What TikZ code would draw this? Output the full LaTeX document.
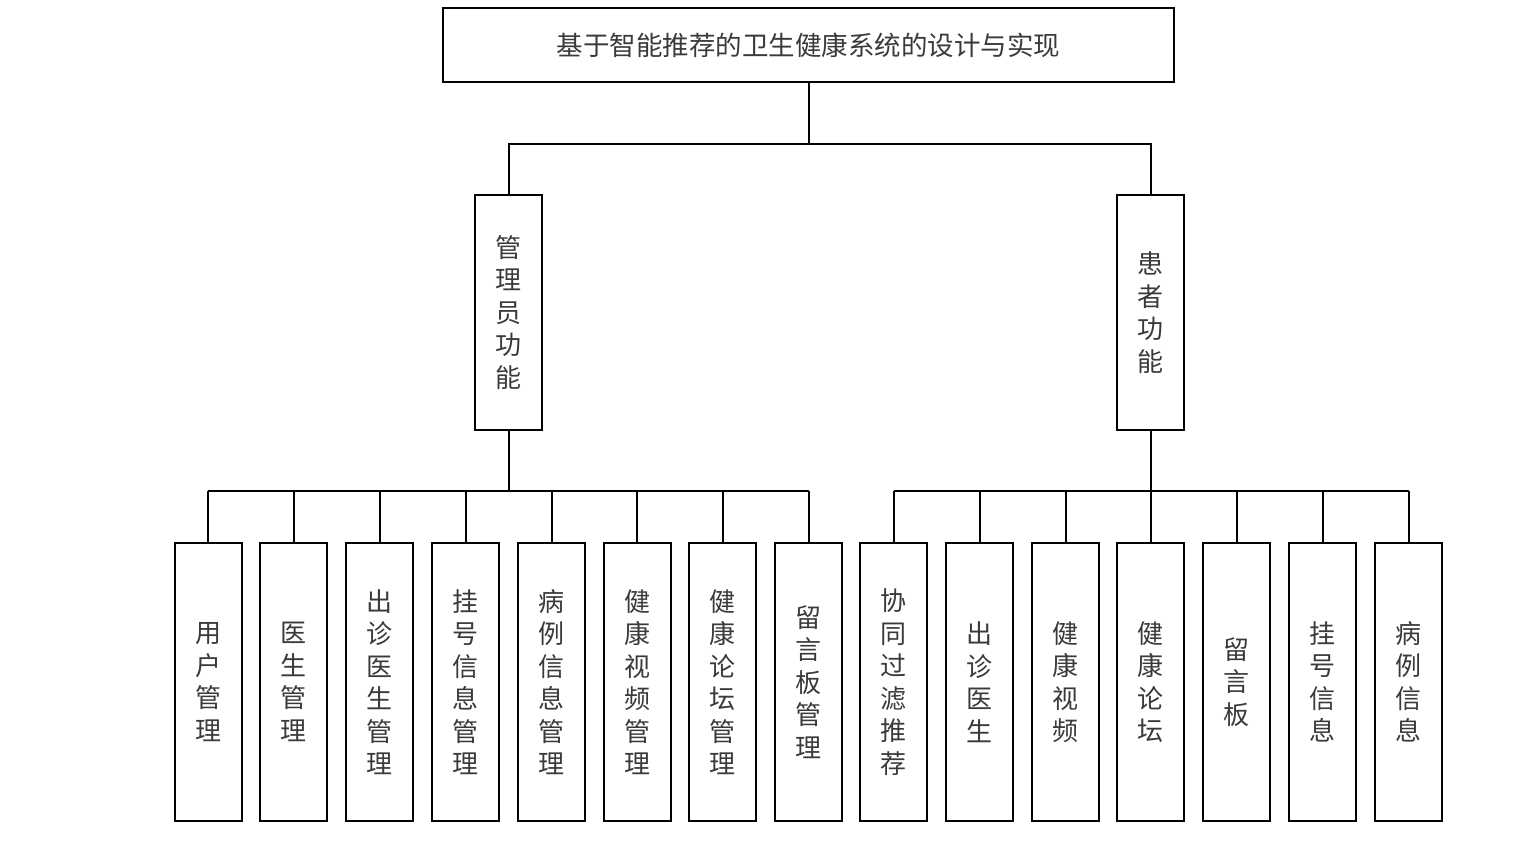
\documentclass[tikz,border=0pt]{standalone}
\usepackage{fontspec}
\newfontfamily\cjk{Noto Sans CJK SC}
\definecolor{txt}{HTML}{3A3A3A}
\begin{document}
\begin{tikzpicture}[x=1pt,y=-1pt,
  box/.style={draw=black,line width=2pt,rectangle,inner sep=0pt,align=center,
    font=\cjk\fontsize{26}{32.5}\selectfont,text=txt},
  titlebox/.style={box,minimum width=731pt,minimum height=74pt,font=\cjk\fontsize{26.5}{32}\selectfont},
  midbox/.style={box,minimum width=67pt,minimum height=235pt},
  leaf/.style={box,minimum width=67pt,minimum height=278pt},
  conn/.style={line width=2pt,black}]
\useasboundingbox (0,0) rectangle (1533,849);
\node[titlebox] (top) at (808.5,45) {基于智能推荐的卫生健康系统的设计与实现};
\node[midbox] (admin) at (508.5,312.5) {管\\理\\员\\功\\能};
\node[midbox] (pat) at (1150.5,312.5) {患\\者\\功\\能};
\coordinate (bus1) at (0,144);
\coordinate (bus2) at (0,491);
\node[leaf] (a1) at (208,682) {用\\户\\管\\理};
\node[leaf] (a2) at (293.5,682) {医\\生\\管\\理};
\node[leaf] (a3) at (379.5,682) {出\\诊\\医\\生\\管\\理};
\node[leaf] (a4) at (465.5,682) {挂\\号\\信\\息\\管\\理};
\node[leaf] (a5) at (551.5,682) {病\\例\\信\\息\\管\\理};
\node[leaf] (a6) at (637,682) {健\\康\\视\\频\\管\\理};
\node[leaf] (a7) at (722.5,682) {健\\康\\论\\坛\\管\\理};
\node[leaf] (a8) at (808.5,682) {留\\言\\板\\管\\理};
\node[leaf] (p1) at (893.5,682) {协\\同\\过\\滤\\推\\荐};
\node[leaf] (p2) at (979.5,682) {出\\诊\\医\\生};
\node[leaf] (p3) at (1065.5,682) {健\\康\\视\\频};
\node[leaf] (p4) at (1150.5,682) {健\\康\\论\\坛};
\node[leaf] (p5) at (1236.5,682) {留\\言\\板};
\node[leaf] (p6) at (1322.5,682) {挂\\号\\信\\息};
\node[leaf] (p7) at (1408.5,682) {病\\例\\信\\息};
% top level
\draw[conn] (top.south) -- (top.south|-bus1);
\draw[conn] (admin.north) |- (pat.north|-bus1) -- (pat.north);
% admin branch
\draw[conn] (admin.south) -- (admin.south|-bus2);
\draw[conn] (a1.north|-bus2) -- (a8.north|-bus2);
\foreach \n in {a1,a2,a3,a4,a5,a6,a7,a8}{\draw[conn] (\n.north) -- (\n.north|-bus2);}
% patient branch
\draw[conn] (pat.south) -- (pat.south|-bus2);
\draw[conn] (p1.north|-bus2) -- (p7.north|-bus2);
\foreach \n in {p1,p2,p3,p4,p5,p6,p7}{\draw[conn] (\n.north) -- (\n.north|-bus2);}
\end{tikzpicture}
\end{document}
